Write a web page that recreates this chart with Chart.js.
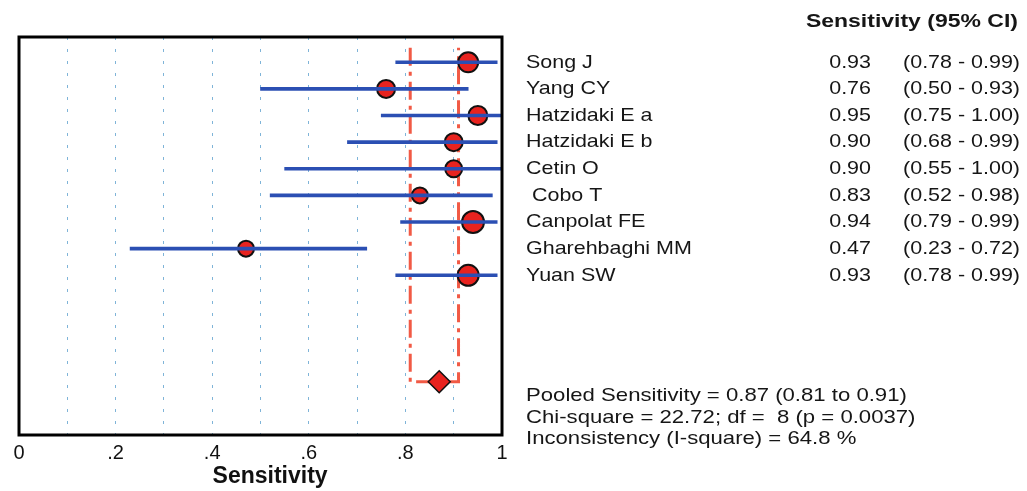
<!DOCTYPE html>
<html>
<head>
<meta charset="utf-8">
<script src="https://cdn.jsdelivr.net/npm/chart.js@4.4.1/dist/chart.umd.min.js"></script>
<style>
  html, body { margin: 0; padding: 0; background: #fff; }
  #wrap { width: 1027px; height: 491px; }
</style>
</head>
<body>
<div id="wrap"><canvas id="forest" width="1027" height="491"></canvas></div>
<script>
// ── DATA ──
const studies  = ['Song J', 'Yang CY', 'Hatzidaki E a', 'Hatzidaki E b', 'Cetin O', ' Cobo T', 'Canpolat FE', 'Gharehbaghi MM', 'Yuan SW'];
const sens     = [0.93, 0.76, 0.95, 0.90, 0.90, 0.83, 0.94, 0.47, 0.93];
const ciLow    = [0.78, 0.50, 0.75, 0.68, 0.55, 0.52, 0.79, 0.23, 0.78];
const ciHigh   = [0.99, 0.93, 1.00, 0.99, 1.00, 0.98, 0.99, 0.72, 0.99];
const weights  = [10, 9, 9.5, 9, 8.5, 8, 11, 8, 10.5];   // marker radius (study weight)
const pooled   = 0.87;
const pooledCI = [0.81, 0.91];
const pooledRow = 12;
const tickVals   = [0, 0.2, 0.4, 0.6, 0.8, 1];
const tickLabels = ['0', '.2', '.4', '.6', '.8', '1'];
const footer = [
    'Pooled Sensitivity = 0.87 (0.81 to 0.91)',
    'Chi-square = 22.72; df =  8 (p = 0.0037)',
    'Inconsistency (I-square) = 64.8 %'
];

const rows = studies.map((_, i) => i);
const fmt = v => v.toFixed(2);

// ── PLUGINS ──
const framePlugin = {
    id: 'frame',
    afterDatasetsDraw(chart) {
        const { ctx, chartArea: a } = chart;
        ctx.save();
        ctx.strokeStyle = '#000';
        ctx.lineWidth = 3;
        ctx.strokeRect(a.left, a.top, a.right - a.left, a.bottom - a.top);
        ctx.restore();
    }
};

function stretchText(ctx, txt, x, y, align, sx) {
    ctx.save();
    ctx.translate(x, y);
    ctx.scale(sx, 1);
    ctx.textAlign = align;
    ctx.fillText(txt, 0, 0);
    ctx.restore();
}

const tablePlugin = {
    id: 'table',
    afterDraw(chart) {
        const { ctx } = chart;
        const y = chart.scales.y;
        ctx.save();
        ctx.fillStyle = '#161616';
        ctx.textBaseline = 'middle';
        ctx.font = 'bold 19px "Liberation Sans", Arial, sans-serif';
        stretchText(ctx, 'Sensitivity (95% CI)', 1018, 22, 'right', 1.21);
        ctx.font = '19px "Liberation Sans", Arial, sans-serif';
        rows.forEach(i => {
            const py = y.getPixelForValue(i);
            stretchText(ctx, studies[i], 526, py, 'left', 1.13);
            stretchText(ctx, fmt(sens[i]), 871, py, 'right', 1.13);
            stretchText(ctx, '(' + fmt(ciLow[i]) + ' - ' + fmt(ciHigh[i]) + ')', 1020, py, 'right', 1.13);
        });
        footer.forEach((t, k) => {
            stretchText(ctx, t, 526, 396 + k * 21.5, 'left', 1.165);
        });
        ctx.restore();
    }
};

// ── CHART ──
const ctx = document.getElementById('forest');
new Chart(ctx, {
    type: 'scatter',
    data: {
        datasets: [
            {
                // confidence intervals
                type: 'bar',
                indexAxis: 'y',
                data: rows.map(i => ({ x: [ciLow[i], ciHigh[i]], y: i })),
                backgroundColor: '#2b4fb3',
                borderWidth: 0,
                barThickness: 3,
                order: 0
            },
            {
                // study estimates
                data: rows.map(i => ({ x: sens[i], y: i })),
                pointRadius: weights,
                pointHoverRadius: weights,
                backgroundColor: '#e8231f',
                borderColor: '#111',
                borderWidth: 2,
                order: 1
            },
            {
                // pooled estimate
                data: [{ x: pooled, y: pooledRow }],
                pointStyle: 'rectRot',
                pointRadius: 11,
                backgroundColor: '#e8231f',
                borderColor: '#111',
                borderWidth: 1.5,
                order: 1
            },
            {
                // pooled CI bracket
                data: [
                    { x: pooledCI[0], y: -0.55 },
                    { x: pooledCI[0], y: pooledRow },
                    { x: pooledCI[1], y: pooledRow },
                    { x: pooledCI[1], y: -0.55 }
                ],
                showLine: true,
                pointRadius: 0,
                borderColor: '#f15a45',
                borderWidth: 3,
                borderDash: [18, 6, 4, 6],
                order: 2
            }
        ]
    },
    options: {
        responsive: false,
        animation: false,
        events: [],
        layout: { padding: { left: 19, right: 525, top: 37, bottom: 0 } },
        plugins: { legend: { display: false }, tooltip: { enabled: false } },
        scales: {
            x: {
                type: 'linear',
                min: 0,
                max: 1,
                offset: false,
                afterFit: s => { s.height = 56; },
                afterBuildTicks: s => {
                    s.ticks = [0, 0.1, 0.2, 0.3, 0.4, 0.5, 0.6, 0.7, 0.8, 0.9, 1].map(v => ({ value: v }));
                },
                grid: {
                    offset: false,
                    color: c => (c.tick && (c.tick.value === 0 || c.tick.value === 1)) ? 'rgba(0,0,0,0)' : '#7fb4d8',
                    lineWidth: 1,
                    drawTicks: false
                },
                border: { display: false, dash: [3, 9] },
                ticks: {
                    padding: 6,
                    autoSkip: false,
                    maxRotation: 0,
                    color: '#111',
                    font: { family: '"Liberation Sans", Arial, sans-serif', size: 20 },
                    callback: v => {
                        const k = tickVals.findIndex(t => Math.abs(t - v) < 1e-6);
                        return k >= 0 ? tickLabels[k] : '';
                    }
                },
                title: {
                    display: true,
                    text: '   Sensitivity',
                    color: '#111',
                    padding: { top: 0, bottom: 1 },
                    font: { family: '"Liberation Sans", Arial, sans-serif', size: 23, weight: 'bold' }
                }
            },
            y: {
                type: 'linear',
                display: false,
                reverse: true,
                offset: false,
                grid: { offset: false },
                min: -0.95,
                max: 14
            }
        }
    },
    plugins: [framePlugin, tablePlugin]
});
</script>
</body>
</html>
